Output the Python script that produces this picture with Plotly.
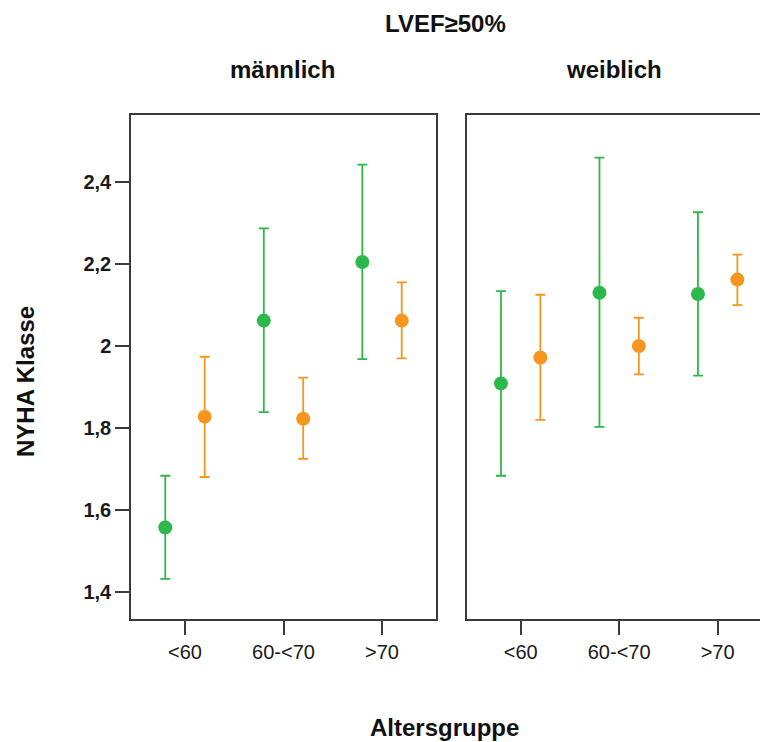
import plotly.graph_objects as go

# Age groups (x categories)
age_groups = ["<60", "60-<70", ">70"]

# NYHA class: mean with interval bounds, per sex panel and per series
# männlich
m_green_mean = [1.558, 2.062, 2.205]
m_green_low = [1.433, 1.839, 1.968]
m_green_high = [1.684, 2.287, 2.442]
m_orange_mean = [1.828, 1.823, 2.062]
m_orange_low = [1.681, 1.725, 1.970]
m_orange_high = [1.974, 1.923, 2.155]
# weiblich
w_green_mean = [1.909, 2.130, 2.127]
w_green_low = [1.684, 1.803, 1.928]
w_green_high = [2.134, 2.459, 2.326]
w_orange_mean = [1.972, 2.000, 2.162]
w_orange_low = [1.820, 1.931, 2.100]
w_orange_high = [2.125, 2.069, 2.223]

y_tick_vals = [1.4, 1.6, 1.8, 2.0, 2.2, 2.4]
y_tick_text = ["1,4", "1,6", "1,8", "2", "2,2", "2,4"]

GREEN = "#2cb84a"
ORANGE = "#f7961e"
AXIS = "#3a3a3a"
FONT = "Liberation Sans, Arial, sans-serif"
W, H = 760, 742
OFFSET = 0.2


def px_x(p):
    return p / W


def px_y(p):
    return 1 - p / H


def series(mean, low, high, color, shift, xa, ya):
    xs = [i + shift for i in range(len(mean))]
    return go.Scatter(
        x=xs, y=mean, xaxis=xa, yaxis=ya, mode="markers",
        marker=dict(size=14, color=color, line=dict(width=0)),
        error_y=dict(
            type="data", symmetric=False,
            array=[h - m for h, m in zip(high, mean)],
            arrayminus=[m - l for m, l in zip(mean, low)],
            color=color, thickness=1.8, width=5,
        ),
        showlegend=False, hoverinfo="skip",
    )


fig = go.Figure()
fig.add_trace(series(m_green_mean, m_green_low, m_green_high, GREEN, -OFFSET, "x", "y"))
fig.add_trace(series(m_orange_mean, m_orange_low, m_orange_high, ORANGE, OFFSET, "x", "y"))
fig.add_trace(series(w_green_mean, w_green_low, w_green_high, GREEN, -OFFSET, "x2", "y2"))
fig.add_trace(series(w_orange_mean, w_orange_low, w_orange_high, ORANGE, OFFSET, "x2", "y2"))

y_dom = [px_y(619), px_y(115)]
y_rng = [1.335, 2.563]

xcommon = dict(
    tickvals=[0, 1, 2], ticktext=age_groups, ticks="outside", ticklen=14,
    tickwidth=1.5, tickcolor=AXIS, showline=True, linecolor=AXIS, linewidth=1.5,
    mirror=True, showgrid=False, zeroline=False,
    tickfont=dict(family=FONT, size=20, color="#1a1a1a"),
)

fig.update_layout(
    width=W, height=H,
    margin=dict(l=0, r=0, t=0, b=0),
    paper_bgcolor="white", plot_bgcolor="white",
    xaxis=dict(domain=[px_x(131), px_x(436)], range=[-0.548, 2.548], anchor="y", **xcommon),
    xaxis2=dict(domain=[px_x(466.7), 1.0], range=[-0.548, 2.430], anchor="y2", **xcommon),
    yaxis=dict(
        domain=y_dom, range=y_rng, anchor="x",
        tickvals=y_tick_vals, ticktext=[f"<b>{t}</b>" for t in y_tick_text],
        ticks="outside", ticklen=14, tickwidth=1.5, tickcolor=AXIS,
        showline=True, linecolor=AXIS, linewidth=1.5, mirror=True,
        showgrid=False, zeroline=False,
        tickfont=dict(family=FONT, size=20, color="#1a1a1a"),
    ),
    yaxis2=dict(
        domain=y_dom, range=y_rng, anchor="x2",
        showticklabels=False, ticks="",
        showline=True, linecolor=AXIS, linewidth=1.5, mirror=False,
        showgrid=False, zeroline=False,
    ),
)

title_font = dict(family=FONT, size=24, color="#111111")
texts = [
    ("<b>LVEF≥50%</b>", 445, 23, 0),
    ("<b>männlich</b>", 282.5, 70, 0),
    ("<b>weiblich</b>", 614, 70, 0),
    ("<b>Altersgruppe</b>", 444, 727, 0),
    ("<b>NYHA Klasse</b>", 25, 382, -90),
]
for txt, x, y, ang in texts:
    fig.add_annotation(
        text=txt, x=px_x(x), y=px_y(y), xref="paper", yref="paper",
        xanchor="center", yanchor="middle", showarrow=False,
        textangle=ang, font=title_font,
    )

fig.write_html("out.html")
